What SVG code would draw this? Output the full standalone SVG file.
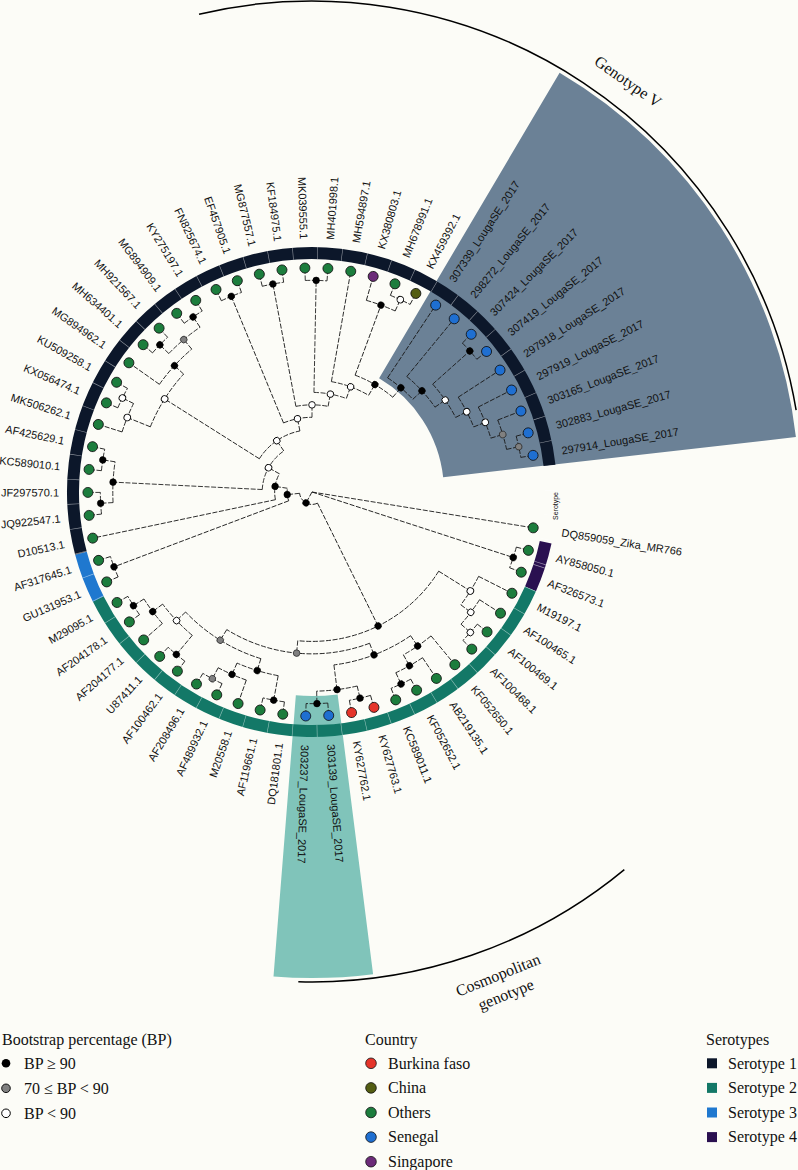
<svg xmlns="http://www.w3.org/2000/svg" xmlns:xlink="http://www.w3.org/1999/xlink" width="798" height="1170" viewBox="0 0 798 1170">
<defs>
<style>
.e{fill:none;stroke:#1a1a1a;stroke-width:0.85;stroke-dasharray:5 1.6}
.nb{fill:#000;stroke:#000;stroke-width:0.6}
.nw{fill:#fff;stroke:#000;stroke-width:0.9}
.ng{fill:#808080;stroke:#222;stroke-width:0.7}
.tc{stroke:#111;stroke-width:0.8}
.o{fill:#1c7d3d}.r{fill:#e5342a}.b{fill:#1f6fd1}.p{fill:#6c2b79}.c{fill:#535d12}
.l{font-family:'Liberation Sans',Arial,sans-serif;font-size:11px;fill:#111}
.f{text-anchor:end}
.s{font-family:'Liberation Serif','Times New Roman',serif;fill:#111;font-size:16px}
</style>
<path id="a17" d="M211.65 0A211.65 211.65 0 0 1 210.53 21.7"/>
<path id="a16s" d="M199.2 0A199.2 199.2 0 0 1 196.84 30.58"/>
<path id="a16m" d="M199.2 0A199.2 199.2 0 0 1 195.01 40.65"/>
<path id="a15s" d="M186.75 0A186.75 186.75 0 0 1 183.74 33.39"/>
<path id="a15m" d="M186.75 0A186.75 186.75 0 0 1 181.79 42.77"/>
</defs>
<rect width="798" height="1170" fill="#fcfcf7"/>

<g id="highlights">
<path id="band-genotypeV" d="M379.11 378.33 L559.61 72.64 A487 487 0 0 1 795.9 437.12 L443.16 477.13 A132 132 0 0 0 379.11 378.33 Z" fill="#6b8196"/>
<path id="band-cosmopolitan" d="M337.65 694.38 L373.1 974.14 A486 486 0 0 1 273.51 976.47 L295.84 695.36 A204 204 0 0 0 337.65 694.38 Z" fill="#80c4ba"/>
</g>

<g id="serotype-ring" transform="translate(312,492)" fill="none" stroke-width="12">
<circle r="239" stroke="#2a1050" stroke-dasharray="49.08 2000" transform="rotate(12.147)"/>
<circle r="239" stroke="#137867" stroke-dasharray="540.15 2000" transform="rotate(23.913)"/>
<circle r="239" stroke="#1f78cf" stroke-dasharray="49.1 2000" transform="rotate(153.403)"/>
<circle r="239" stroke="#0c172a" stroke-dasharray="785.7 2000" transform="rotate(165.175)"/>
<circle r="239" stroke="#ffffff" stroke-opacity="0.55" stroke-dasharray="0.6 23.953" transform="rotate(18.03)"/>
</g>
<text x="557.5" y="520" transform="rotate(-90 557.5 520)" style="font-family:'Liberation Sans',Arial,sans-serif;font-size:7px;fill:#111">Serotype</text>

<g id="connectors" class="e" transform="translate(312,492)">
<line x2="211.65" transform="rotate(18.03)"/>
<line x2="12.45" transform="rotate(118.855)"/>
<line x1="12.45" x2="149.4" transform="rotate(63.74)"/>
<line x1="12.45" x2="24.9" transform="rotate(173.97)"/>
<line x1="149.4" x2="186.75" transform="rotate(32.01)"/>
<line x1="149.4" x2="161.85" transform="rotate(95.465)"/>
<line x1="186.75" x2="199.2" transform="rotate(37.16)"/>
<line x1="199.2" x2="211.65" transform="rotate(41.575)"/>
<line x1="161.85" x2="174.3" transform="rotate(69.16)"/>
<line x1="161.85" x2="174.3" transform="rotate(121.77)"/>
<line x1="174.3" x2="186.75" transform="rotate(55.55)"/>
<line x1="174.3" x2="199.2" transform="rotate(82.775)"/>
<line x1="186.75" x2="199.2" transform="rotate(60.7)"/>
<line x1="199.2" x2="211.65" transform="rotate(65.115)"/>
<line x1="199.2" x2="211.65" transform="rotate(76.89)"/>
<line x1="199.2" x2="211.65" transform="rotate(88.66)"/>
<line x1="174.3" x2="186.75" transform="rotate(107.055)"/>
<line x1="174.3" x2="186.75" transform="rotate(136.485)"/>
<line x1="186.75" x2="211.65" transform="rotate(100.435)"/>
<line x1="186.75" x2="199.2" transform="rotate(113.675)"/>
<line x1="199.2" x2="211.65" transform="rotate(118.09)"/>
<line x1="186.75" x2="211.65" transform="rotate(129.865)"/>
<line x1="186.75" x2="199.2" transform="rotate(143.105)"/>
<line x1="199.2" x2="211.65" transform="rotate(147.52)"/>
<line x1="24.9" x2="211.65" transform="rotate(159.295)"/>
<line x1="24.9" x2="37.35" transform="rotate(188.65)"/>
<line x1="37.35" x2="49.8" transform="rotate(209.185)"/>
<line x1="49.8" x2="199.2" transform="rotate(182.84)"/>
<line x1="49.8" x2="62.25" transform="rotate(235.53)"/>
<line x1="199.2" x2="211.65" transform="rotate(176.95)"/>
<line x1="199.2" x2="211.65" transform="rotate(188.725)"/>
<line x1="62.25" x2="174.3" transform="rotate(212.27)"/>
<line x1="62.25" x2="74.7" transform="rotate(258.79)"/>
<line x1="174.3" x2="199.2" transform="rotate(201.965)"/>
<line x1="174.3" x2="186.75" transform="rotate(222.57)"/>
<line x1="199.2" x2="211.65" transform="rotate(206.38)"/>
<line x1="186.75" x2="199.2" transform="rotate(229.925)"/>
<line x1="199.2" x2="211.65" transform="rotate(224.04)"/>
<line x1="199.2" x2="211.65" transform="rotate(235.81)"/>
<line x1="74.7" x2="211.65" transform="rotate(247.585)"/>
<line x1="74.7" x2="87.15" transform="rotate(270)"/>
<line x1="87.15" x2="211.65" transform="rotate(259.355)"/>
<line x1="87.15" x2="99.6" transform="rotate(280.64)"/>
<line x1="99.6" x2="211.65" transform="rotate(271.125)"/>
<line x1="99.6" x2="112.05" transform="rotate(290.155)"/>
<line x1="112.05" x2="124.5" transform="rotate(300.35)"/>
<line x1="124.5" x2="199.2" transform="rotate(290.255)"/>
<line x1="199.2" x2="211.65" transform="rotate(294.67)"/>
<line x1="124.5" x2="136.95" transform="rotate(310.445)"/>
<line x1="136.95" x2="149.4" transform="rotate(317.39)"/>
<line x1="149.4" x2="161.85" transform="rotate(325.39)"/>
<line x1="161.85" x2="211.65" transform="rotate(318.215)"/>
<line x1="161.85" x2="174.3" transform="rotate(332.56)"/>
<line x1="174.3" x2="186.75" transform="rotate(338.08)"/>
<line x1="186.75" x2="199.2" transform="rotate(343.23)"/>
<line x1="199.2" x2="211.65" transform="rotate(347.645)"/>
<line x2="220" transform="rotate(9.2)"/>
<line x1="211.65" x2="220" transform="rotate(15.09)"/>
<line x1="211.65" x2="220" transform="rotate(20.97)"/>
<line x1="186.75" x2="220" transform="rotate(26.86)"/>
<line x1="199.2" x2="220" transform="rotate(32.74)"/>
<line x1="211.65" x2="220" transform="rotate(38.63)"/>
<line x1="211.65" x2="220" transform="rotate(44.52)"/>
<line x1="186.75" x2="220" transform="rotate(50.4)"/>
<line x1="199.2" x2="220" transform="rotate(56.29)"/>
<line x1="211.65" x2="220" transform="rotate(62.17)"/>
<line x1="211.65" x2="220" transform="rotate(68.06)"/>
<line x1="211.65" x2="220" transform="rotate(73.95)"/>
<line x1="211.65" x2="220" transform="rotate(79.83)"/>
<line x1="211.65" x2="220" transform="rotate(85.72)"/>
<line x1="211.65" x2="220" transform="rotate(91.6)"/>
<line x1="211.65" x2="220" transform="rotate(97.49)"/>
<line x1="211.65" x2="220" transform="rotate(103.38)"/>
<line x1="199.2" x2="220" transform="rotate(109.26)"/>
<line x1="211.65" x2="220" transform="rotate(115.15)"/>
<line x1="211.65" x2="220" transform="rotate(121.03)"/>
<line x1="211.65" x2="220" transform="rotate(126.92)"/>
<line x1="211.65" x2="220" transform="rotate(132.81)"/>
<line x1="199.2" x2="220" transform="rotate(138.69)"/>
<line x1="211.65" x2="220" transform="rotate(144.58)"/>
<line x1="211.65" x2="220" transform="rotate(150.46)"/>
<line x1="211.65" x2="220" transform="rotate(156.35)"/>
<line x1="211.65" x2="220" transform="rotate(162.24)"/>
<line x1="37.35" x2="220" transform="rotate(168.12)"/>
<line x1="211.65" x2="220" transform="rotate(174.01)"/>
<line x1="211.65" x2="220" transform="rotate(179.89)"/>
<line x1="211.65" x2="220" transform="rotate(185.78)"/>
<line x1="211.65" x2="220" transform="rotate(191.67)"/>
<line x1="199.2" x2="220" transform="rotate(197.55)"/>
<line x1="211.65" x2="220" transform="rotate(203.44)"/>
<line x1="211.65" x2="220" transform="rotate(209.32)"/>
<line x1="186.75" x2="220" transform="rotate(215.21)"/>
<line x1="211.65" x2="220" transform="rotate(221.1)"/>
<line x1="211.65" x2="220" transform="rotate(226.98)"/>
<line x1="211.65" x2="220" transform="rotate(232.87)"/>
<line x1="211.65" x2="220" transform="rotate(238.75)"/>
<line x1="211.65" x2="220" transform="rotate(244.64)"/>
<line x1="211.65" x2="220" transform="rotate(250.53)"/>
<line x1="211.65" x2="220" transform="rotate(256.41)"/>
<line x1="211.65" x2="220" transform="rotate(262.3)"/>
<line x1="211.65" x2="220" transform="rotate(268.18)"/>
<line x1="211.65" x2="220" transform="rotate(274.07)"/>
<line x1="112.05" x2="220" transform="rotate(279.96)"/>
<line x1="199.2" x2="220" transform="rotate(285.84)"/>
<line x1="211.65" x2="220" transform="rotate(291.73)"/>
<line x1="211.65" x2="220" transform="rotate(297.61)"/>
<line x1="136.95" x2="220" transform="rotate(303.5)"/>
<line x1="149.4" x2="220" transform="rotate(309.39)"/>
<line x1="211.65" x2="220" transform="rotate(315.27)"/>
<line x1="211.65" x2="220" transform="rotate(321.16)"/>
<line x1="174.3" x2="220" transform="rotate(327.04)"/>
<line x1="186.75" x2="220" transform="rotate(332.93)"/>
<line x1="199.2" x2="220" transform="rotate(338.82)"/>
<line x1="211.65" x2="220" transform="rotate(344.7)"/>
<line x1="211.65" x2="220" transform="rotate(350.59)"/>
<use xlink:href="#a17" transform="rotate(15.09)"/>
<use xlink:href="#a17" transform="rotate(62.17)"/>
<use xlink:href="#a16s" transform="rotate(56.29)"/>
<use xlink:href="#a15s" transform="rotate(50.4)"/>
<use xlink:href="#a17" transform="rotate(73.95)"/>
<use xlink:href="#a17" transform="rotate(85.72)"/>
<use xlink:href="#a16m" transform="rotate(76.89)"/>
<path d="M174.3 0A174.3 174.3 0 0 1 154.99 79.74" transform="rotate(55.55)"/>
<use xlink:href="#a17" transform="rotate(38.63)"/>
<use xlink:href="#a16s" transform="rotate(32.74)"/>
<use xlink:href="#a15s" transform="rotate(26.86)"/>
<use xlink:href="#a17" transform="rotate(97.49)"/>
<use xlink:href="#a17" transform="rotate(115.15)"/>
<use xlink:href="#a16s" transform="rotate(109.26)"/>
<use xlink:href="#a15m" transform="rotate(100.435)"/>
<use xlink:href="#a17" transform="rotate(126.92)"/>
<use xlink:href="#a17" transform="rotate(144.58)"/>
<use xlink:href="#a16s" transform="rotate(138.69)"/>
<use xlink:href="#a15m" transform="rotate(129.865)"/>
<path d="M174.3 0A174.3 174.3 0 0 1 151.81 85.64" transform="rotate(107.055)"/>
<path d="M161.85 0A161.85 161.85 0 0 1 98.28 128.59" transform="rotate(69.16)"/>
<path d="M149.4 0A149.4 149.4 0 0 1 66.77 133.65" transform="rotate(32.01)"/>
<use xlink:href="#a17" transform="rotate(156.35)"/>
<use xlink:href="#a17" transform="rotate(174.01)"/>
<use xlink:href="#a17" transform="rotate(185.78)"/>
<use xlink:href="#a16m" transform="rotate(176.95)"/>
<use xlink:href="#a17" transform="rotate(203.44)"/>
<use xlink:href="#a16s" transform="rotate(197.55)"/>
<use xlink:href="#a17" transform="rotate(221.1)"/>
<use xlink:href="#a17" transform="rotate(232.87)"/>
<use xlink:href="#a16m" transform="rotate(224.04)"/>
<path d="M186.75 0A186.75 186.75 0 0 1 180.62 47.44" transform="rotate(215.21)"/>
<path d="M174.3 0A174.3 174.3 0 0 1 163.15 61.34" transform="rotate(201.965)"/>
<use xlink:href="#a17" transform="rotate(244.64)"/>
<use xlink:href="#a17" transform="rotate(256.41)"/>
<use xlink:href="#a17" transform="rotate(268.18)"/>
<use xlink:href="#a17" transform="rotate(291.73)"/>
<use xlink:href="#a16s" transform="rotate(285.84)"/>
<use xlink:href="#a17" transform="rotate(344.7)"/>
<use xlink:href="#a16s" transform="rotate(338.82)"/>
<use xlink:href="#a15s" transform="rotate(332.93)"/>
<path d="M174.3 0A174.3 174.3 0 0 1 171.07 33.38" transform="rotate(327.04)"/>
<use xlink:href="#a17" transform="rotate(315.27)"/>
<path d="M161.85 0A161.85 161.85 0 0 1 156.8 40.1" transform="rotate(318.215)"/>
<path d="M149.4 0A149.4 149.4 0 0 1 143.61 41.18" transform="rotate(309.39)"/>
<path d="M136.95 0A136.95 136.95 0 0 1 132.95 32.88" transform="rotate(303.5)"/>
<path d="M124.5 0A124.5 124.5 0 0 1 116.85 42.97" transform="rotate(290.255)"/>
<path d="M112.05 0A112.05 112.05 0 0 1 105.03 39.04" transform="rotate(279.96)"/>
<path d="M99.6 0A99.6 99.6 0 0 1 94.16 32.48" transform="rotate(271.125)"/>
<path d="M87.15 0A87.15 87.15 0 0 1 81.21 31.64" transform="rotate(259.355)"/>
<path d="M74.7 0A74.7 74.7 0 0 1 69.06 28.48" transform="rotate(247.585)"/>
<path d="M62.25 0A62.25 62.25 0 0 1 42.83 45.17" transform="rotate(212.27)"/>
<path d="M49.8 0A49.8 49.8 0 0 1 30.18 39.61" transform="rotate(182.84)"/>
<path d="M37.35 0A37.35 37.35 0 0 1 28.16 24.54" transform="rotate(168.12)"/>
<path d="M24.9 0A24.9 24.9 0 0 1 21.7 12.21" transform="rotate(159.295)"/>
<path d="M12.45 0A12.45 12.45 0 0 1 -4.31 11.68" transform="rotate(63.74)"/>
</g>

<g id="internal-nodes" transform="translate(312,492)">
<g id="n-S4" transform="rotate(18.03)"><circle class="nb" cx="211.65" r="3.3"/></g>
<g id="n-N65" transform="rotate(65.115)"><circle class="nb" cx="211.65" r="3.3"/></g>
<g id="n-N60" transform="rotate(60.7)"><circle class="nb" cx="199.2" r="3.3"/></g>
<g id="n-N55" transform="rotate(55.55)"><circle class="nb" cx="186.75" r="3.3"/></g>
<g id="n-N76" transform="rotate(76.89)"><circle class="nb" cx="211.65" r="3.3"/></g>
<g id="n-N88" transform="rotate(88.66)"><circle class="nb" cx="211.65" r="3.3"/></g>
<g id="n-N82" transform="rotate(82.775)"><circle class="nb" cx="199.2" r="3.3"/></g>
<g id="n-N69" transform="rotate(69.16)"><circle class="nb" cx="174.3" r="3.3"/></g>
<g id="n-W3" transform="rotate(41.575)"><circle class="nw" cx="211.65" r="3.3"/></g>
<g id="n-W2" transform="rotate(37.16)"><circle class="nw" cx="199.2" r="3.3"/></g>
<g id="n-W1" transform="rotate(32.01)"><circle class="nw" cx="186.75" r="3.3"/></g>
<g id="n-N100" transform="rotate(100.435)"><circle class="nb" cx="211.65" r="3.3"/></g>
<g id="n-N118" transform="rotate(118.09)"><circle class="ng" cx="211.65" r="3.3"/></g>
<g id="n-N113" transform="rotate(113.675)"><circle class="nb" cx="199.2" r="3.3"/></g>
<g id="n-N107" transform="rotate(107.055)"><circle class="nb" cx="186.75" r="3.3"/></g>
<g id="n-N129" transform="rotate(129.865)"><circle class="nb" cx="211.65" r="3.3"/></g>
<g id="n-N147" transform="rotate(147.52)"><circle class="nb" cx="211.65" r="3.3"/></g>
<g id="n-N143" transform="rotate(143.105)"><circle class="nb" cx="199.2" r="3.3"/></g>
<g id="n-W136" transform="rotate(136.485)"><circle class="nw" cx="186.75" r="3.3"/></g>
<g id="n-L2" transform="rotate(121.77)"><circle class="ng" cx="174.3" r="3.3"/></g>
<g id="n-G2" transform="rotate(95.465)"><circle class="ng" cx="161.85" r="3.3"/></g>
<g id="n-S2" transform="rotate(63.74)"><circle class="nb" cx="149.4" r="3.3"/></g>
<g id="n-S3" transform="rotate(159.295)"><circle class="nb" cx="211.65" r="3.3"/></g>
<g id="n-N176" transform="rotate(176.95)"><circle class="nb" cx="211.65" r="3.3"/></g>
<g id="n-N188" transform="rotate(188.725)"><circle class="nb" cx="211.65" r="3.3"/></g>
<g id="n-N182" transform="rotate(182.84)"><circle class="nb" cx="199.2" r="3.3"/></g>
<g id="n-W206" transform="rotate(206.38)"><circle class="nw" cx="211.65" r="3.3"/></g>
<g id="n-W202" transform="rotate(201.965)"><circle class="nw" cx="199.2" r="3.3"/></g>
<g id="n-N224" transform="rotate(224.04)"><circle class="nb" cx="211.65" r="3.3"/></g>
<g id="n-N236" transform="rotate(235.81)"><circle class="nb" cx="211.65" r="3.3"/></g>
<g id="n-G230" transform="rotate(229.925)"><circle class="ng" cx="199.2" r="3.3"/></g>
<g id="n-N222" transform="rotate(222.57)"><circle class="nb" cx="186.75" r="3.3"/></g>
<g id="n-W213" transform="rotate(212.27)"><circle class="nw" cx="174.3" r="3.3"/></g>
<g id="n-N247" transform="rotate(247.585)"><circle class="nb" cx="211.65" r="3.3"/></g>
<g id="n-N259" transform="rotate(259.355)"><circle class="nb" cx="211.65" r="3.3"/></g>
<g id="n-N271" transform="rotate(271.125)"><circle class="nb" cx="211.65" r="3.3"/></g>
<g id="n-W294" transform="rotate(294.67)"><circle class="nw" cx="211.65" r="3.3"/></g>
<g id="n-N290" transform="rotate(290.255)"><circle class="nb" cx="199.2" r="3.3"/></g>
<g id="n-G347" transform="rotate(347.645)"><circle class="ng" cx="211.65" r="3.3"/></g>
<g id="n-G343" transform="rotate(343.23)"><circle class="ng" cx="199.2" r="3.3"/></g>
<g id="n-W338" transform="rotate(338.08)"><circle class="nw" cx="186.75" r="3.3"/></g>
<g id="n-W332" transform="rotate(332.56)"><circle class="nw" cx="174.3" r="3.3"/></g>
<g id="n-N318" transform="rotate(318.215)"><circle class="nb" cx="211.65" r="3.3"/></g>
<g id="n-M" transform="rotate(325.39)"><circle class="nw" cx="161.85" r="3.3"/></g>
<g id="n-L" transform="rotate(317.39)"><circle class="nb" cx="149.4" r="3.3"/></g>
<g id="n-K" transform="rotate(310.445)"><circle class="nb" cx="136.95" r="3.3"/></g>
<g id="n-J" transform="rotate(300.35)"><circle class="nb" cx="124.5" r="3.3"/></g>
<g id="n-I" transform="rotate(290.155)"><circle class="nw" cx="112.05" r="3.3"/></g>
<g id="n-H" transform="rotate(280.64)"><circle class="nw" cx="99.6" r="3.3"/></g>
<g id="n-G" transform="rotate(270)"><circle class="nw" cx="87.15" r="3.3"/></g>
<g id="n-F" transform="rotate(258.79)"><circle class="nw" cx="74.7" r="3.3"/></g>
<g id="n-E" transform="rotate(235.53)"><circle class="nw" cx="62.25" r="3.3"/></g>
<g id="n-D" transform="rotate(209.185)"><circle class="nw" cx="49.8" r="3.3"/></g>
<g id="n-C" transform="rotate(188.65)"><circle class="nb" cx="37.35" r="3.3"/></g>
<g id="n-B" transform="rotate(173.97)"><circle class="nb" cx="24.9" r="3.3"/></g>
<g id="n-A" transform="rotate(118.855)"><circle class="nb" cx="12.45" r="3.3"/></g>
</g>

<g id="tips" transform="translate(312,492)">
<g id="tip-DQ859059" transform="rotate(9.2)"><circle class="tc o" cx="224.1" r="5"/><text class="l" x="253" dy=".36em">DQ859059_Zika_MR766</text></g>
<g id="tip-AY858050" transform="rotate(15.09)"><circle class="tc o" cx="224.1" r="5"/><text class="l" x="253" dy=".36em">AY858050.1</text></g>
<g id="tip-AF326573" transform="rotate(20.97)"><circle class="tc o" cx="224.1" r="5"/><text class="l" x="253" dy=".36em">AF326573.1</text></g>
<g id="tip-M19197" transform="rotate(26.86)"><circle class="tc o" cx="224.1" r="5"/><text class="l" x="253" dy=".36em">M19197.1</text></g>
<g id="tip-AF100465" transform="rotate(32.74)"><circle class="tc o" cx="224.1" r="5"/><text class="l" x="253" dy=".36em">AF100465.1</text></g>
<g id="tip-AF100469" transform="rotate(38.63)"><circle class="tc o" cx="224.1" r="5"/><text class="l" x="253" dy=".36em">AF100469.1</text></g>
<g id="tip-AF100468" transform="rotate(44.52)"><circle class="tc o" cx="224.1" r="5"/><text class="l" x="253" dy=".36em">AF100468.1</text></g>
<g id="tip-KF052650" transform="rotate(50.4)"><circle class="tc o" cx="224.1" r="5"/><text class="l" x="253" dy=".36em">KF052650.1</text></g>
<g id="tip-AB219135" transform="rotate(56.29)"><circle class="tc o" cx="224.1" r="5"/><text class="l" x="253" dy=".36em">AB219135.1</text></g>
<g id="tip-KF052652" transform="rotate(62.17)"><circle class="tc o" cx="224.1" r="5"/><text class="l" x="253" dy=".36em">KF052652.1</text></g>
<g id="tip-KC589011" transform="rotate(68.06)"><circle class="tc o" cx="224.1" r="5"/><text class="l" x="253" dy=".36em">KC589011.1</text></g>
<g id="tip-KY627763" transform="rotate(73.95)"><circle class="tc r" cx="224.1" r="5"/><text class="l" x="253" dy=".36em">KY627763.1</text></g>
<g id="tip-KY627762" transform="rotate(79.83)"><circle class="tc r" cx="224.1" r="5"/><text class="l" x="253" dy=".36em">KY627762.1</text></g>
<g id="tip-303139" transform="rotate(85.72)"><circle class="tc b" cx="224.1" r="5"/><text class="l" x="253" dy=".36em">303139_LougaSE_2017</text></g>
<g id="tip-303237" transform="rotate(91.6)"><circle class="tc b" cx="224.1" r="5"/><text class="l" x="253" dy=".36em">303237_LougaSE_2017</text></g>
<g id="tip-DQ181801" transform="rotate(97.49)"><circle class="tc o" cx="224.1" r="5"/><text class="l f" x="-253" dy=".36em" transform="rotate(180)">DQ181801.1</text></g>
<g id="tip-AF119661" transform="rotate(103.38)"><circle class="tc o" cx="224.1" r="5"/><text class="l f" x="-253" dy=".36em" transform="rotate(180)">AF119661.1</text></g>
<g id="tip-M20558" transform="rotate(109.26)"><circle class="tc o" cx="224.1" r="5"/><text class="l f" x="-253" dy=".36em" transform="rotate(180)">M20558.1</text></g>
<g id="tip-AF489932" transform="rotate(115.15)"><circle class="tc o" cx="224.1" r="5"/><text class="l f" x="-253" dy=".36em" transform="rotate(180)">AF489932.1</text></g>
<g id="tip-AF208496" transform="rotate(121.03)"><circle class="tc o" cx="224.1" r="5"/><text class="l f" x="-253" dy=".36em" transform="rotate(180)">AF208496.1</text></g>
<g id="tip-AF100462" transform="rotate(126.92)"><circle class="tc o" cx="224.1" r="5"/><text class="l f" x="-253" dy=".36em" transform="rotate(180)">AF100462.1</text></g>
<g id="tip-U87411" transform="rotate(132.81)"><circle class="tc o" cx="224.1" r="5"/><text class="l f" x="-253" dy=".36em" transform="rotate(180)">U87411.1</text></g>
<g id="tip-AF204177" transform="rotate(138.69)"><circle class="tc o" cx="224.1" r="5"/><text class="l f" x="-253" dy=".36em" transform="rotate(180)">AF204177.1</text></g>
<g id="tip-AF204178" transform="rotate(144.58)"><circle class="tc o" cx="224.1" r="5"/><text class="l f" x="-253" dy=".36em" transform="rotate(180)">AF204178.1</text></g>
<g id="tip-M29095" transform="rotate(150.46)"><circle class="tc o" cx="224.1" r="5"/><text class="l f" x="-253" dy=".36em" transform="rotate(180)">M29095.1</text></g>
<g id="tip-GU131953" transform="rotate(156.35)"><circle class="tc o" cx="224.1" r="5"/><text class="l f" x="-253" dy=".36em" transform="rotate(180)">GU131953.1</text></g>
<g id="tip-AF317645" transform="rotate(162.24)"><circle class="tc o" cx="224.1" r="5"/><text class="l f" x="-253" dy=".36em" transform="rotate(180)">AF317645.1</text></g>
<g id="tip-D10513" transform="rotate(168.12)"><circle class="tc o" cx="224.1" r="5"/><text class="l f" x="-253" dy=".36em" transform="rotate(180)">D10513.1</text></g>
<g id="tip-JQ922547" transform="rotate(174.01)"><circle class="tc o" cx="224.1" r="5"/><text class="l f" x="-253" dy=".36em" transform="rotate(180)">JQ922547.1</text></g>
<g id="tip-JF297570" transform="rotate(179.89)"><circle class="tc o" cx="224.1" r="5"/><text class="l f" x="-253" dy=".36em" transform="rotate(180)">JF297570.1</text></g>
<g id="tip-KC589010" transform="rotate(185.78)"><circle class="tc o" cx="224.1" r="5"/><text class="l f" x="-253" dy=".36em" transform="rotate(180)">KC589010.1</text></g>
<g id="tip-AF425629" transform="rotate(191.67)"><circle class="tc o" cx="224.1" r="5"/><text class="l f" x="-253" dy=".36em" transform="rotate(180)">AF425629.1</text></g>
<g id="tip-MK506262" transform="rotate(197.55)"><circle class="tc o" cx="224.1" r="5"/><text class="l f" x="-253" dy=".36em" transform="rotate(180)">MK506262.1</text></g>
<g id="tip-KX056474" transform="rotate(203.44)"><circle class="tc o" cx="224.1" r="5"/><text class="l f" x="-253" dy=".36em" transform="rotate(180)">KX056474.1</text></g>
<g id="tip-KU509258" transform="rotate(209.32)"><circle class="tc o" cx="224.1" r="5"/><text class="l f" x="-253" dy=".36em" transform="rotate(180)">KU509258.1</text></g>
<g id="tip-MG894962" transform="rotate(215.21)"><circle class="tc o" cx="224.1" r="5"/><text class="l f" x="-253" dy=".36em" transform="rotate(180)">MG894962.1</text></g>
<g id="tip-MH634401" transform="rotate(221.1)"><circle class="tc o" cx="224.1" r="5"/><text class="l f" x="-253" dy=".36em" transform="rotate(180)">MH634401.1</text></g>
<g id="tip-MH921567" transform="rotate(226.98)"><circle class="tc o" cx="224.1" r="5"/><text class="l f" x="-253" dy=".36em" transform="rotate(180)">MH921567.1</text></g>
<g id="tip-MG894909" transform="rotate(232.87)"><circle class="tc o" cx="224.1" r="5"/><text class="l f" x="-253" dy=".36em" transform="rotate(180)">MG894909.1</text></g>
<g id="tip-KY275197" transform="rotate(238.75)"><circle class="tc o" cx="224.1" r="5"/><text class="l f" x="-253" dy=".36em" transform="rotate(180)">KY275197.1</text></g>
<g id="tip-FN825674" transform="rotate(244.64)"><circle class="tc o" cx="224.1" r="5"/><text class="l f" x="-253" dy=".36em" transform="rotate(180)">FN825674.1</text></g>
<g id="tip-EF457905" transform="rotate(250.53)"><circle class="tc o" cx="224.1" r="5"/><text class="l f" x="-253" dy=".36em" transform="rotate(180)">EF457905.1</text></g>
<g id="tip-MG877557" transform="rotate(256.41)"><circle class="tc o" cx="224.1" r="5"/><text class="l f" x="-253" dy=".36em" transform="rotate(180)">MG877557.1</text></g>
<g id="tip-KF184975" transform="rotate(262.3)"><circle class="tc o" cx="224.1" r="5"/><text class="l f" x="-253" dy=".36em" transform="rotate(180)">KF184975.1</text></g>
<g id="tip-MK039555" transform="rotate(268.18)"><circle class="tc o" cx="224.1" r="5"/><text class="l f" x="-253" dy=".36em" transform="rotate(180)">MK039555.1</text></g>
<g id="tip-MH401998" transform="rotate(274.07)"><circle class="tc o" cx="224.1" r="5"/><text class="l" x="253" dy=".36em">MH401998.1</text></g>
<g id="tip-MH594897" transform="rotate(279.96)"><circle class="tc o" cx="224.1" r="5"/><text class="l" x="253" dy=".36em">MH594897.1</text></g>
<g id="tip-KX380803" transform="rotate(285.84)"><circle class="tc p" cx="224.1" r="5"/><text class="l" x="253" dy=".36em">KX380803.1</text></g>
<g id="tip-MH678991" transform="rotate(291.73)"><circle class="tc o" cx="224.1" r="5"/><text class="l" x="253" dy=".36em">MH678991.1</text></g>
<g id="tip-KX459392" transform="rotate(297.61)"><circle class="tc c" cx="224.1" r="5"/><text class="l" x="253" dy=".36em">KX459392.1</text></g>
<g id="tip-307339" transform="rotate(303.5)"><circle class="tc b" cx="224.1" r="5"/><text class="l" x="253" dy=".36em">307339_LougaSE_2017</text></g>
<g id="tip-298272" transform="rotate(309.39)"><circle class="tc b" cx="224.1" r="5"/><text class="l" x="253" dy=".36em">298272_LougaSE_2017</text></g>
<g id="tip-307424" transform="rotate(315.27)"><circle class="tc b" cx="224.1" r="5"/><text class="l" x="253" dy=".36em">307424_LougaSE_2017</text></g>
<g id="tip-307419" transform="rotate(321.16)"><circle class="tc b" cx="224.1" r="5"/><text class="l" x="253" dy=".36em">307419_LougaSE_2017</text></g>
<g id="tip-297918" transform="rotate(327.04)"><circle class="tc b" cx="224.1" r="5"/><text class="l" x="253" dy=".36em">297918_LougaSE_2017</text></g>
<g id="tip-297919" transform="rotate(332.93)"><circle class="tc b" cx="224.1" r="5"/><text class="l" x="253" dy=".36em">297919_LougaSE_2017</text></g>
<g id="tip-303165" transform="rotate(338.82)"><circle class="tc b" cx="224.1" r="5"/><text class="l" x="253" dy=".36em">303165_LougaSE_2017</text></g>
<g id="tip-302883" transform="rotate(344.7)"><circle class="tc b" cx="224.1" r="5"/><text class="l" x="253" dy=".36em">302883_LougaSE_2017</text></g>
<g id="tip-297914" transform="rotate(350.59)"><circle class="tc b" cx="224.1" r="5"/><text class="l" x="253" dy=".36em">297914_LougaSE_2017</text></g>
</g>

<g id="clade-genotypeV">
<path d="M199.05 14.16 A491 491 0 0 1 796.13 410.12" fill="none" stroke="#000" stroke-width="1.5"/>
<text class="s" transform="translate(625,86) rotate(35)" text-anchor="middle">Genotype V</text>
</g>
<g id="clade-cosmopolitan">
<path d="M624.34 869.55 A490 490 0 0 1 298.32 981.81" fill="none" stroke="#000" stroke-width="1.5"/>
<text class="s" transform="translate(500,980) rotate(-22)" text-anchor="middle"><tspan x="0" y="0">Cosmopolitan</tspan><tspan x="0" y="21">genotype</tspan></text>
</g>

<g id="legend-bootstrap">
<text class="s" x="2" y="1045">Bootstrap percentage (BP)</text>
<circle cx="6" cy="1063.3" r="4.3" fill="#000"/>
<text class="s" x="24" y="1068.5">BP ≥ 90</text>
<circle cx="6" cy="1088.3" r="4.3" fill="#808080" stroke="#000" stroke-width="0.9"/>
<text class="s" x="24" y="1093.5">70 ≤ BP &lt; 90</text>
<circle cx="6" cy="1113.3" r="4.3" fill="#fff" stroke="#000" stroke-width="1"/>
<text class="s" x="24" y="1118.5">BP &lt; 90</text>
</g>
<g id="legend-country">
<text class="s" x="365" y="1045">Country</text>
<circle class="tc r" cx="371" cy="1063.3" r="5.3"/>
<text class="s" x="388" y="1068.5">Burkina faso</text>
<circle class="tc c" cx="371" cy="1087.9" r="5.3"/>
<text class="s" x="388" y="1093.1">China</text>
<circle class="tc o" cx="371" cy="1112.5" r="5.3"/>
<text class="s" x="388" y="1117.7">Others</text>
<circle class="tc b" cx="371" cy="1137.1" r="5.3"/>
<text class="s" x="388" y="1142.3">Senegal</text>
<circle class="tc p" cx="371" cy="1161.7" r="5.3"/>
<text class="s" x="388" y="1166.9">Singapore</text>
</g>
<g id="legend-serotypes">
<text class="s" x="706" y="1045">Serotypes</text>
<rect x="707" y="1058.3" width="10" height="10" fill="#0c172a"/>
<text class="s" x="728" y="1068.5">Serotype 1</text>
<rect x="707" y="1082.9" width="10" height="10" fill="#137867"/>
<text class="s" x="728" y="1093.1">Serotype 2</text>
<rect x="707" y="1107.5" width="10" height="10" fill="#1f78cf"/>
<text class="s" x="728" y="1117.7">Serotype 3</text>
<rect x="707" y="1132.1" width="10" height="10" fill="#2a1050"/>
<text class="s" x="728" y="1142.3">Serotype 4</text>
</g>
</svg>
